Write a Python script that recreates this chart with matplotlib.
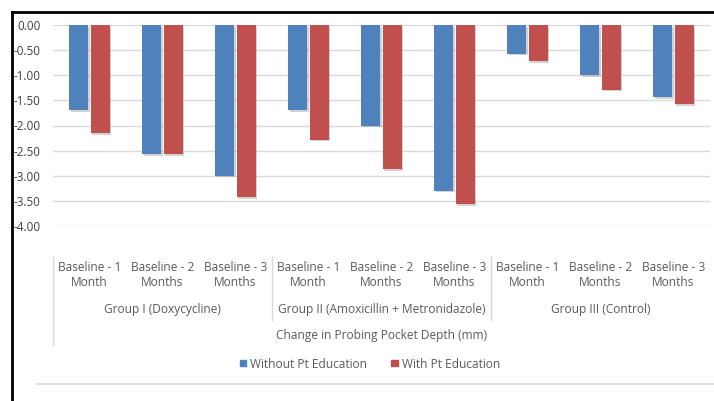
import matplotlib
matplotlib.use("Agg")
import matplotlib.pyplot as plt
import matplotlib.patheffects as pe
from matplotlib.lines import Line2D
from matplotlib.patches import Patch
from matplotlib.transforms import blended_transform_factory
import numpy as np

categories = ["Baseline - 1\nMonth", "Baseline - 2\nMonths", "Baseline - 3\nMonths"] * 3
groups = ["Group I (Doxycycline)", "Group II (Amoxicillin + Metronidazole)", "Group III (Control)"]
axis_title = "Change in Probing Pocket Depth (mm)"
series_names = ["Without Pt Education", "With Pt Education"]
without_edu = [-1.70, -2.57, -3.00, -1.70, -2.00, -3.30, -0.57, -1.00, -1.43]
with_edu = [-2.15, -2.57, -3.43, -2.28, -2.87, -3.57, -0.72, -1.29, -1.58]
yticks = [0.0, -0.5, -1.0, -1.5, -2.0, -2.5, -3.0, -3.5, -4.0]

blue = "#4f81bd"
red = "#c0504d"
txt = "#5a5a5a"
W, H = 714, 401
fs = 8.6

plt.rcParams['font.family'] = ['Open Sans', 'DejaVu Sans']
fig = plt.figure(figsize=(W / 100, H / 100), dpi=100)
ax = fig.add_axes([53 / W, 1 - 226 / H, 657 / W, 201 / H])

x = np.arange(len(categories))
bw = 0.26
shadow = [pe.SimplePatchShadow(offset=(1.0, -1.2), shadow_rgbFace="#909090", alpha=0.4), pe.Normal()]
b1 = ax.bar(x - bw / 2 - 0.014, without_edu, bw, color=blue, zorder=3)
b2 = ax.bar(x + bw / 2 + 0.014, with_edu, bw, color=red, zorder=3)
for b in list(b1) + list(b2):
    b.set_path_effects(shadow)

ax.set_xlim(-0.5, len(categories) - 0.5)
ax.set_ylim(-4.0, 0.0)
ax.set_yticks(yticks)
ax.set_yticklabels([f"{v:.2f}" for v in yticks], fontsize=8.4, color="#404040")
ax.grid(axis="y", color="#d9d9d9", linewidth=1, zorder=0)
for s in ax.spines.values():
    s.set_visible(False)
ax.tick_params(axis="y", length=0, pad=9)
ax.tick_params(axis="x", length=0, labelbottom=False)

trans = blended_transform_factory(ax.transData, fig.transFigure)
for i, c in enumerate(categories):
    ax.text(i, 1 - 275 / H, c, transform=trans, ha="center", va="center",
            fontsize=fs, color=txt, linespacing=1.2)
for g, name in enumerate(groups):
    ax.text(g * 3 + 1, 1 - 310 / H, name, transform=trans, ha="center", va="center",
            fontsize=fs, color=txt)
ax.text(4, 1 - 336 / H, axis_title, transform=trans, ha="center", va="center",
        fontsize=fs, color=txt)

# category separators
fig.add_artist(Line2D([53 / W, 53 / W], [1 - 257 / H, 1 - 345 / H], color="#d9d9d9", lw=1))
for sx in [2.5, 5.5]:
    xf = (53 + (sx + 0.5) * 73) / W
    fig.add_artist(Line2D([xf, xf], [1 - 257 / H, 1 - 320 / H], color="#d9d9d9", lw=1))

# legend
handles = [Patch(color=blue), Patch(color=red)]
fig.legend(handles=handles, labels=series_names, loc="center", bbox_to_anchor=(370 / W, 1 - 364 / H),
           ncol=2, frameon=False, fontsize=fs, handlelength=0.55, handleheight=0.45,
           columnspacing=2.0, handletextpad=0.35, labelcolor=txt)

# bottom separator line and frame border
fig.add_artist(Line2D([37 / W, 1.0], [1 - 384 / H, 1 - 384 / H], color="#d9d9d9", lw=1.2))
fig.add_artist(Line2D([12 / W, 12 / W], [1 - 12 / H, 0], color="black", lw=2))
fig.add_artist(Line2D([12 / W, 1.0], [1 - 12 / H, 1 - 12 / H], color="black", lw=2))

fig.savefig("out.png", dpi=100)
